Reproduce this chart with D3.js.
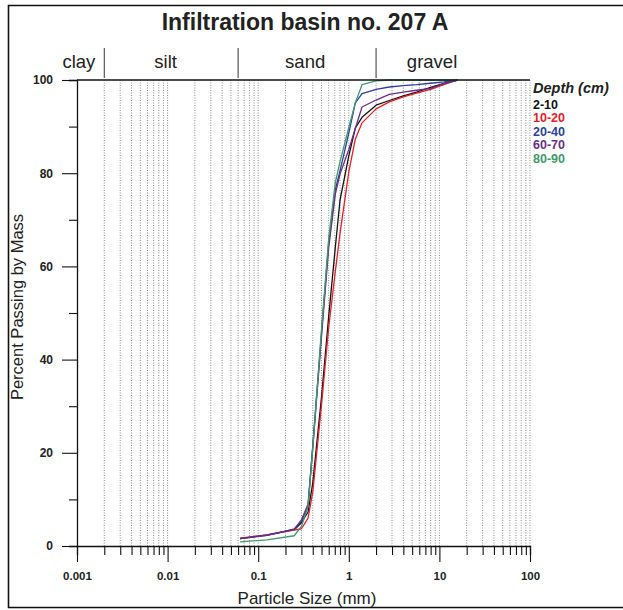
<!DOCTYPE html>
<html>
<head>
<meta charset="utf-8">
<script src="https://cdn.jsdelivr.net/npm/d3@7"></script>
<style>
  html, body { margin: 0; padding: 0; background: #fff; }
  svg { display: block; font-family: "Liberation Sans", Arial, sans-serif; }
</style>
</head>
<body>
<svg id="chart" width="623" height="610"></svg>
<script>
// Sieve sizes (mm) shared by all depth samples
const sizes = [0.063, 0.125, 0.25, 0.3, 0.355, 0.4, 0.5, 0.6, 0.71, 0.8, 1.0, 1.18, 1.4, 2, 2.8, 4, 5.6, 8, 11.2, 16];

// Percent passing by mass for each depth interval
const depths = ["2-10", "10-20", "20-40", "60-70", "80-90"];
const pass_2_10  = [1.6, 2.4, 3.5, 5.0, 7.3, 13.5, 32.0, 49.3, 64.1, 74.2, 83.7, 89.7, 92.0, 94.6, 95.6, 96.6, 97.4, 98.4, 99.3, 100];
const pass_10_20 = [1.7, 2.4, 3.4, 3.7, 6.0, 11.5, 30.3, 46.9, 58.9, 67.1, 80.3, 87.3, 90.8, 93.8, 95.3, 96.4, 97.2, 98.0, 99.0, 100];
const pass_20_40 = [1.6, 2.3, 3.6, 5.3, 8.5, 21.5, 45.9, 65.1, 76.5, 80.5, 88.6, 95.1, 97.1, 98.0, 98.5, 98.8, 99.0, 99.3, 99.6, 100];
const pass_60_70 = [1.6, 2.3, 3.6, 5.6, 9.0, 21.0, 45.0, 64.0, 75.5, 79.8, 85.1, 89.6, 94.2, 95.7, 96.9, 97.4, 97.8, 98.2, 99.2, 100];
const pass_80_90 = [0.9, 1.3, 2.2, 4.2, 8.5, 21.0, 46.5, 66.0, 78.0, 82.5, 89.8, 95.1, 99.0, 99.8, 100, 100, 100, 100, 100, 100];
const seriesColors = ["#111111", "#e5202a", "#2c3f9e", "#6a2f86", "#3f9a6a"];

// Axis ticks and texture classes
const yTicks = [0, 10, 20, 30, 40, 50, 60, 70, 80, 90, 100];
const yLabels = [0, 20, 40, 60, 80, 100];
const xDecades = [0.001, 0.01, 0.1, 1, 10, 100];
const xDecadeLabels = ["0.001", "0.01", "0.1", "1", "10", "100"];
const classNames = ["clay", "silt", "sand", "gravel"];
const classLabelAt = [0.00105, 0.0095, 0.33, 8.3];   // label anchors, mm
const classBounds = [0.002, 0.06, 2];                // class limits, mm

const svg = d3.select("#chart");
const x = d3.scaleLog().domain([0.001, 100]).range([77, 530]);
const y = d3.scaleLinear().domain([0, 100]).range([546, 80]);

// Outer frame
svg.append("path")
  .attr("d", "M623,5.5 H8.5 V607.5 H623")
  .attr("fill", "none").attr("stroke", "#111").attr("stroke-width", 1.6);

// Title
svg.append("text")
  .attr("x", 305).attr("y", 30)
  .attr("text-anchor", "middle")
  .attr("font-size", 23).attr("font-weight", "bold").attr("fill", "#222")
  .text("Infiltration basin no. 207 A");

// Soil texture classes above the plot
svg.selectAll(".cls-sep").data(classBounds).enter().append("line")
  .attr("x1", d => x(d)).attr("x2", d => x(d))
  .attr("y1", 48).attr("y2", 78)
  .attr("stroke", "#333").attr("stroke-width", 1);
svg.selectAll(".cls-lab").data(classNames).enter().append("text")
  .attr("x", (d, i) => x(classLabelAt[i])).attr("y", 68)
  .attr("text-anchor", "middle").attr("font-size", 18.5).attr("fill", "#222")
  .text(d => d);

// Logarithmic vertical grid
const minorVals = [];
for (let e = -3; e < 2; e++) {
  for (let m = 1; m <= 9; m++) minorVals.push(+(m * Math.pow(10, e)).toPrecision(3));
}
minorVals.push(100);
svg.append("g").selectAll("line").data(minorVals.filter(v => v > 0.001)).enter().append("line")
  .attr("x1", d => x(d)).attr("x2", d => x(d))
  .attr("y1", y(100)).attr("y2", y(0))
  .attr("stroke", "#808080").attr("stroke-width", 0.9)
  .attr("stroke-dasharray", "1,1.5");

// Grading curves
const seriesVals = [pass_2_10, pass_10_20, pass_20_40, pass_60_70, pass_80_90];
const line = d3.line().x(d => x(d[0])).y(d => y(d[1]));
seriesVals.forEach((vals, i) => {
  svg.append("path")
    .datum(sizes.map((s, j) => [s, vals[j]]))
    .attr("d", line)
    .attr("fill", "none")
    .attr("stroke", seriesColors[i])
    .attr("stroke-width", 1.3)
    .attr("stroke-linejoin", "round");
});

// Top boundary at 100 %
svg.append("line")
  .attr("x1", x(0.001)).attr("x2", x(100))
  .attr("y1", y(100)).attr("y2", y(100))
  .attr("stroke", "#111").attr("stroke-width", 1.3);

// Y axis
const yAxis = svg.append("g").attr("transform", `translate(${x(0.001)},0)`)
  .call(d3.axisLeft(y).tickValues(yTicks).tickSize(8).tickFormat(d => yLabels.includes(d) ? d : ""));
yAxis.select(".domain").attr("stroke", "#111").attr("stroke-width", 1.3);
yAxis.selectAll(".tick line").attr("stroke", "#111").attr("stroke-width", 1.1)
  .attr("x2", d => yLabels.includes(d) ? -15 : -8);
yAxis.selectAll(".tick text").attr("x", -24)
  .attr("font-size", 12).attr("font-weight", "bold").attr("fill", "#222")
  .attr("font-family", "Liberation Sans, Arial, sans-serif");

// X axis
const xAxis = svg.append("g").attr("transform", `translate(0,${y(0)})`)
  .call(d3.axisBottom(x).tickValues(minorVals).tickSize(9)
    .tickFormat(d => {
      const k = xDecades.findIndex(v => Math.abs(v - d) < 1e-9);
      return k >= 0 ? xDecadeLabels[k] : "";
    }));
xAxis.select(".domain").attr("stroke", "#111").attr("stroke-width", 1.3);
xAxis.selectAll(".tick line").attr("stroke", "#111").attr("stroke-width", 1.1)
  .attr("y2", d => xDecades.some(v => Math.abs(v - d) < 1e-9) ? 16 : 9);
xAxis.selectAll(".tick text").attr("y", 26)
  .attr("font-size", 11.5).attr("font-weight", "bold").attr("fill", "#222")
  .attr("font-family", "Liberation Sans, Arial, sans-serif");

// Axis titles
svg.append("text")
  .attr("x", 307).attr("y", 604)
  .attr("text-anchor", "middle").attr("font-size", 17).attr("fill", "#222")
  .text("Particle Size (mm)");
svg.append("text")
  .attr("transform", `translate(23,${y(50) - 6}) rotate(-90)`)
  .attr("text-anchor", "middle").attr("font-size", 16.5).attr("fill", "#222")
  .text("Percent Passing by Mass");

// Legend
const legend = svg.append("g").attr("transform", "translate(533,0)");
legend.append("text").attr("x", 0).attr("y", 93)
  .attr("font-size", 14.5).attr("font-weight", "bold").attr("font-style", "italic").attr("fill", "#222")
  .text("Depth (cm)");
legend.selectAll(".lg").data(depths).enter().append("text")
  .attr("x", 0).attr("y", (d, i) => 108.5 + i * 13.6)
  .attr("font-size", 12.5).attr("font-weight", "bold")
  .attr("fill", (d, i) => seriesColors[i])
  .text(d => d);
</script>
</body>
</html>
